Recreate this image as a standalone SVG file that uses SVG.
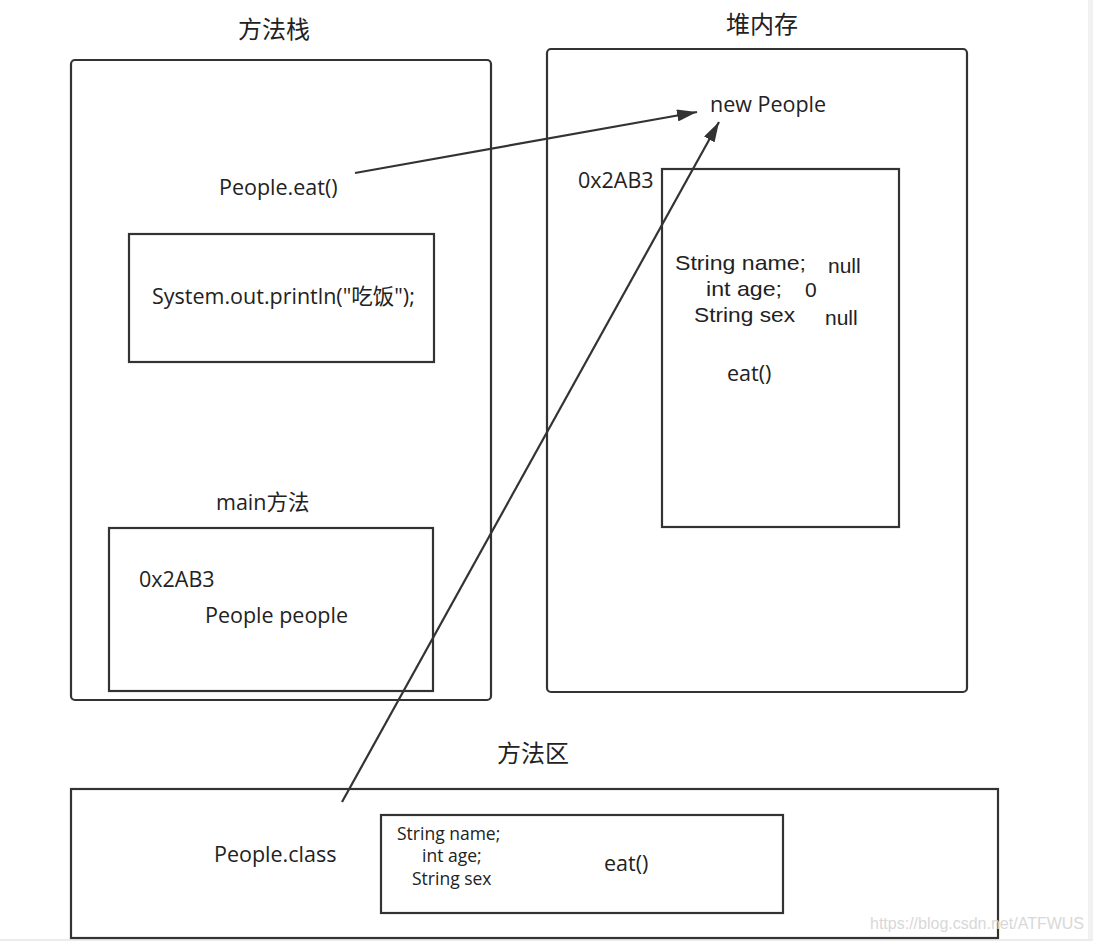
<svg xmlns="http://www.w3.org/2000/svg" width="1093" height="941" viewBox="0 0 1093 941">
<defs>
<style>
.box{fill:none;stroke:#333;stroke-width:2.2}
.t{font-family:"Open Sans","Noto Sans","Noto Sans CJK SC",sans-serif;font-size:21.5px;fill:#222}
.f{font-family:"Liberation Sans",Arial,sans-serif;font-size:21px;fill:#222}
.c{font-family:"Noto Sans CJK SC","Open Sans",sans-serif;font-size:24px;fill:#222}
.s{font-family:"Open Sans","Noto Sans",sans-serif;font-size:17.5px;fill:#222}
.conn{fill:none;stroke:#333;stroke-width:2.2}
</style>
<marker id="ah" viewBox="0 0 20 12" refX="20" refY="6" markerWidth="20" markerHeight="12" markerUnits="userSpaceOnUse" orient="auto">
<path d="M0,0 L20,6 L0,12 Z" fill="#333"/>
</marker>
</defs>
<rect x="0" y="0" width="1093" height="941" fill="#fff"/>
<rect x="1088" y="0" width="5" height="941" fill="#f1f1f1"/>
<rect x="0" y="939" width="1093" height="2" fill="#ececec"/>

<g id="stack">
<text class="c" x="274" y="38" text-anchor="middle">方法栈</text>
<rect class="box" x="71" y="60" width="420" height="640" rx="4"/>
<text class="t" x="219" y="195">People.eat()</text>
</g>
<g id="eat-frame">
<rect class="box" x="129" y="234" width="305" height="128"/>
<text class="t" x="152" y="304">System.out.println("吃饭");</text>
</g>
<g id="main-frame">
<text class="t" x="216" y="510">main方法</text>
<rect class="box" x="109" y="528" width="324" height="163"/>
<text class="t" x="139" y="587">0x2AB3</text>
<text class="t" x="205" y="623">People people</text>
</g>

<g id="heap">
<text class="c" x="762" y="33" text-anchor="middle">堆内存</text>
<rect class="box" x="547" y="49" width="420" height="643" rx="4"/>
<text class="t" x="710" y="112">new People</text>
<text class="t" x="578" y="188">0x2AB3</text>
</g>
<g id="object">
<rect class="box" x="662" y="169" width="237" height="358"/>
<text class="f" x="675" y="270" textLength="131" lengthAdjust="spacingAndGlyphs">String name;</text>
<text class="f" x="828" y="273">null</text>
<text class="f" x="706" y="296" textLength="76" lengthAdjust="spacingAndGlyphs">int age;</text>
<text class="f" x="805" y="297">0</text>
<text class="f" x="694" y="322" textLength="101" lengthAdjust="spacingAndGlyphs">String sex</text>
<text class="f" x="825" y="325">null</text>
<text class="t" x="727" y="381">eat()</text>
</g>

<g id="method-area">
<text class="c" x="533" y="762" text-anchor="middle">方法区</text>
<rect class="box" x="71" y="789" width="927" height="149"/>
<text class="t" x="214" y="862">People.class</text>
</g>
<g id="class-info">
<rect class="box" x="381" y="815" width="402" height="98"/>
<text class="s" x="397" y="840">String name;</text>
<text class="s" x="422" y="862">int age;</text>
<text class="s" x="412" y="885">String sex</text>
<text class="t" x="604" y="871">eat()</text>
</g>

<g id="connectors">
<line class="conn" x1="355" y1="173" x2="697" y2="112" marker-end="url(#ah)"/>
<line class="conn" x1="342" y1="802" x2="719" y2="122" marker-end="url(#ah)"/>
</g>

<text x="870" y="929" font-family="Liberation Sans,Arial,sans-serif" font-size="16" fill="#d8d8d8">https://blog.csdn.net/ATFWUS</text>
</svg>
